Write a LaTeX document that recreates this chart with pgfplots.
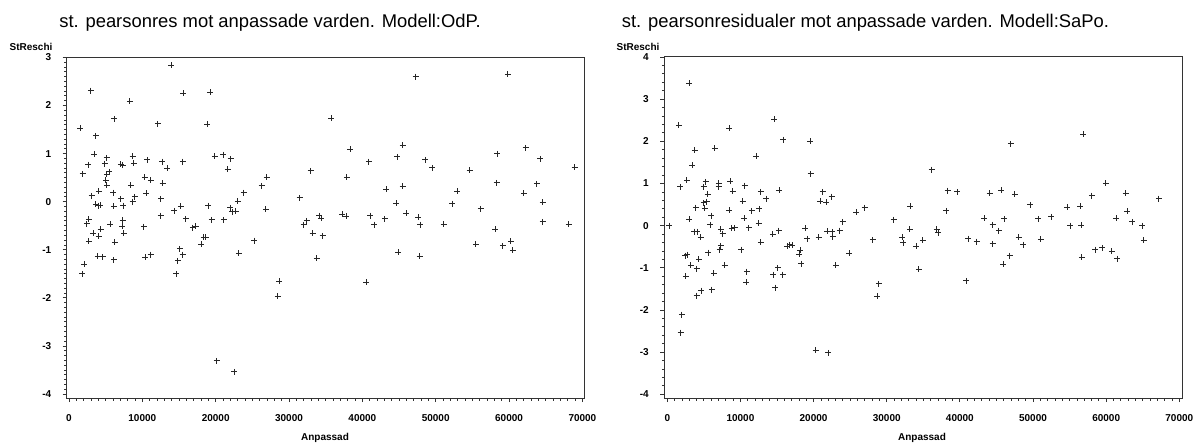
\documentclass[border=0pt]{standalone}
\usepackage{pgfplots}
\pgfplotsset{compat=1.18}
\usepackage{pgfplotstable}
\usepackage{fontspec}
\setmainfont{Liberation Sans}

% standardized Pearson residuals vs fitted values, model OdP
\pgfplotstableread{
x y
3678 1.37
3450 0.99
5136 0.91
8678 0.94
2635 0.77
4905 0.79
7084 0.78
7311 0.76
8856 0.80
10670 0.87
12711 0.83
13392 0.69
15531 0.83
19891 0.94
21022 0.98
22030 0.89
21621 0.67
1866 0.58
5490 0.62
5177 0.57
10354 0.51
11172 0.45
5041 0.44
5177 0.34
8447 0.34
12766 0.38
4087 0.22
6035 0.19
10560 0.18
3093 0.12
7084 0.06
8992 0.10
8678 0.00
12534 0.06
23800 0.19
23024 0.01
3678 -0.05
4265 -0.07
4087 -0.08
6131 -0.10
7398 -0.08
14346 -0.19
15218 -0.10
18978 -0.08
21976 -0.13
22248 -0.21
22711 -0.20
12493 -0.29
15940 -0.36
19441 -0.38
21117 -0.38
2725 -0.37
2452 -0.46
5627 -0.47
7316 -0.39
7262 -0.51
10218 -0.52
16894 -0.54
17262 -0.51
4319 -0.57
3311 -0.66
4046 -0.72
7493 -0.66
18351 -0.74
18665 -0.74
2725 -0.82
6267 -0.84
18025 -0.89
15123 -0.98
15490 -1.10
14850 -1.23
23161 -1.07
3910 -1.14
4591 -1.15
6131 -1.21
10395 -1.16
11131 -1.10
2084 -1.30
1812 -1.50
14619 -1.50
2997 2.31
8311 2.09
13937 2.84
15572 2.25
19251 2.27
6172 1.72
12125 1.62
18842 1.61
1540 1.53
26935 0.51
26253 0.33
26840 -0.16
25245 -0.81
47275 2.60
59850 2.65
35790 1.73
38379 1.09
45504 1.17
40872 0.83
44782 0.93
48597 0.87
49550 0.70
54632 0.65
58406 1.00
62262 1.12
64264 0.89
68937 0.72
32929 0.64
37875 0.51
43283 0.26
45504 0.32
52902 0.22
58311 0.39
63801 0.37
62030 0.17
31431 0.08
44646 -0.03
52221 -0.04
64578 -0.01
46008 -0.24
56131 -0.15
47589 -0.32
47916 -0.48
34101 -0.29
34373 -0.34
32384 -0.40
31976 -0.48
37234 -0.26
37833 -0.30
41104 -0.29
43052 -0.36
41594 -0.48
51090 -0.47
58134 -0.57
64578 -0.42
68120 -0.47
33202 -0.66
34564 -0.71
55490 -0.89
59169 -0.92
60259 -0.82
60531 -1.01
44864 -1.05
47820 -1.14
33747 -1.18
40504 -1.68
28651 -1.65
28433 -1.97
20123 -3.31
22520 -3.54
}\odp

% standardized Pearson residuals vs fitted values, model SaPo
\pgfplotstableread{
x y
3738 1.79
6508 1.83
12142 1.64
3411 1.43
19604 1.23
2688 1.08
1774 0.92
5238 1.04
4966 0.92
7053 1.00
7012 0.92
8595 1.05
10600 0.95
8922 0.82
12783 0.80
15280 0.84
13561 0.64
5511 0.75
5416 0.57
4966 0.54
10286 0.58
21241 0.80
20928 0.58
21746 0.56
22469 0.69
3915 0.43
5143 0.41
6003 0.24
8458 0.36
11555 0.35
12551 0.40
3001 0.15
5866 0.02
10505 0.17
12469 0.06
23970 0.09
273 0.00
3683 -0.14
4093 -0.14
4557 -0.28
7326 -0.08
7558 -0.19
8827 -0.06
9195 -0.05
11146 -0.05
15239 -0.12
14420 -0.20
12783 -0.39
18827 -0.06
19100 -0.31
20696 -0.27
21883 -0.13
22565 -0.15
22647 -0.26
23561 -0.12
7326 -0.48
7149 -0.57
5594 -0.64
10095 -0.57
16425 -0.49
16740 -0.45
17108 -0.46
18199 -0.58
18008 -0.68
18281 -0.90
2456 -0.71
2729 -0.69
4325 -0.80
3233 -0.94
4011 -1.02
7831 -0.94
2551 -1.20
6371 -1.13
10873 -1.09
10778 -1.34
15102 -1.00
14516 -1.16
15785 -1.16
14734 -1.47
23056 -0.94
4638 -1.54
4011 -1.66
6098 -1.52
24884 -0.65
3001 3.38
1596 2.38
8458 2.31
14597 2.52
15825 2.04
19563 2.00
25839 0.32
26971 0.43
30928 0.14
28104 -0.34
56889 2.17
46985 1.94
36153 1.33
38336 0.83
39618 0.80
44066 0.77
45662 0.84
47531 0.75
59945 1.01
62674 0.77
58036 0.71
33206 0.46
38117 0.35
49618 0.49
54707 0.44
56439 0.46
62892 0.34
67217 0.64
43342 0.18
46071 0.16
50710 0.16
52524 0.21
61392 0.18
63574 0.09
33151 -0.09
44475 0.02
45348 -0.12
55075 0.00
56617 0.01
64939 0.00
36835 -0.09
37067 -0.17
32115 -0.28
32251 -0.41
34024 -0.49
34925 -0.35
41160 -0.31
42292 -0.38
44475 -0.43
48022 -0.27
48663 -0.45
51078 -0.32
65130 -0.35
46794 -0.71
56671 -0.75
58485 -0.57
59482 -0.53
60764 -0.61
61528 -0.78
34379 -1.03
40846 -1.31
45934 -0.91
28922 -1.38
28704 -1.68
1828 -2.54
2005 -2.11
20286 -2.96
22019 -3.02
}\sapo

\newcommand{\ticklab}{\bfseries\fontsize{10}{12}\selectfont}
\newcommand{\titlefont}{\fontsize{18.4}{20}\selectfont}

\pgfplotsset{
  resid/.style={
    scale only axis,
    width=518pt, height=341pt,
    axis line style={line width=1pt, black!80},
    tick style={line width=0.8pt, black!80},
    tick align=outside,
    major tick length=4pt,
    minor tick length=2.5pt,
    xtick pos=bottom, ytick pos=left,
    xtick={0,10000,...,70000},
    xticklabels={0,10000,20000,30000,40000,50000,60000,70000},
    minor x tick num=9,
    scaled ticks=false,
    xticklabel style={font=\ticklab, yshift=-9pt},
    yticklabel style={font=\ticklab, xshift=-8pt},
  },
  resmark/.style={only marks, mark=+, mark size=3pt,
    mark options={line width=1pt, black!85}},
}

\begin{document}
\begin{tikzpicture}[x=1pt,y=1pt]
\path[use as bounding box] (0,0) rectangle (1200,445);

\begin{axis}[resid,
  at={(66.7pt,47pt)}, anchor=south west,
  xmin=-313, xmax=70313,
  ymin=-4.083, ymax=3.008,
  ytick={-4,-3,-2,-1,0,1,2,3},
  yticklabels={-4,-3,-2,-1,0,1,2,3},
  minor y tick num=9]
\addplot[resmark] table[x=x,y=y] {\odp};
\end{axis}

\begin{axis}[resid,
  at={(664.3pt,47pt)}, anchor=south west,
  xmin=-410, xmax=70410,
  ymin=-4.088, ymax=4.0,
  ytick={-4,-3,-2,-1,0,1,2,3,4},
  yticklabels={-4,-3,-2,-1,0,1,2,3,4},
  minor y tick num=4]
\addplot[resmark] table[x=x,y=y] {\sapo};
\end{axis}

\node[anchor=base, font=\titlefont] at (270,417.7) {st. pearsonres mot anpassade varden. Modell:OdP.};
\node[anchor=base, font=\titlefont] at (865.5,417.7) {st. pearsonresidualer mot anpassade varden. Modell:SaPo.};

\node[anchor=base, font=\ticklab] at (31,394) {StReschi};
\node[anchor=base, font=\ticklab] at (638,394) {StReschi};

\node[anchor=base, font=\ticklab] at (325,5) {Anpassad};
\node[anchor=base, font=\ticklab] at (922,5) {Anpassad};
\end{tikzpicture}
\end{document}
